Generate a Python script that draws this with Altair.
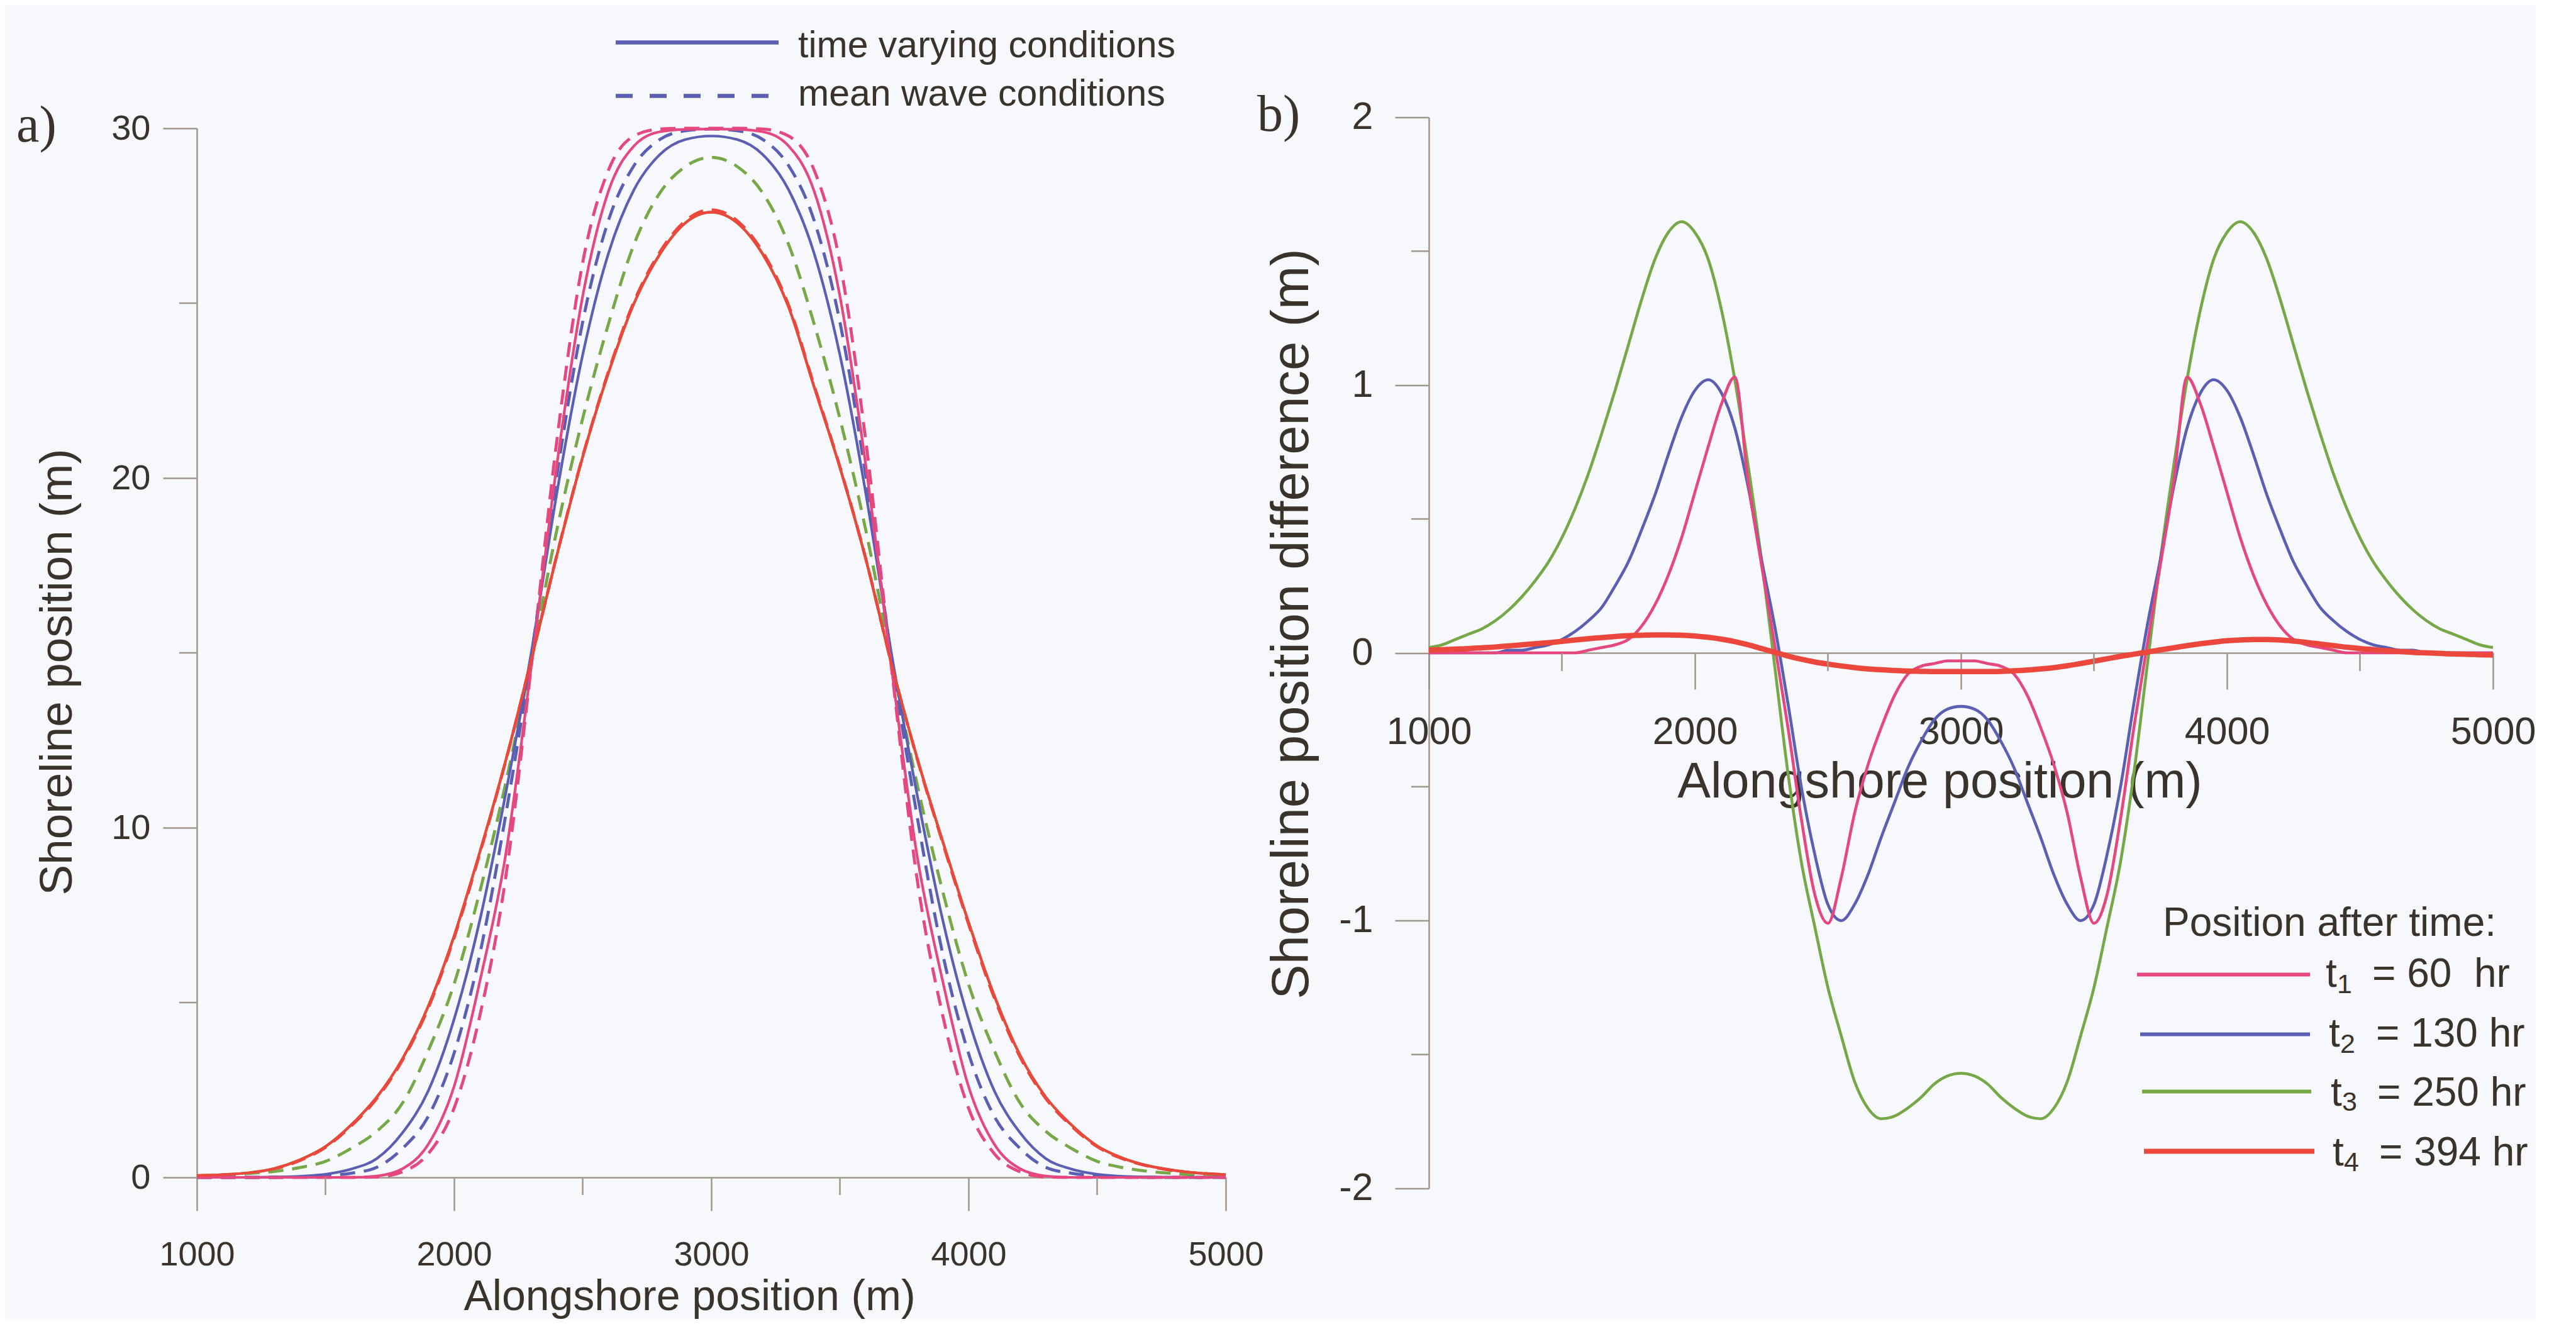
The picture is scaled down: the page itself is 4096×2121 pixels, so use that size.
import altair as alt
import pandas as pd

# ---------------- data ----------------
x_a = list(range(1000, 5001, 100))

pink_solid = [0, 0, 0, 0, 0, 0, 0, 0.04, 0.25, 0.95, 2.6, 5.6, 9.2, 14.6, 20.4, 25.2, 28.2, 29.5, 29.9, 29.97,
              29.98, 29.97, 29.9, 29.5, 28.2, 25.2, 20.4, 14.6, 9.2, 5.6, 2.6, 0.95, 0.25, 0.04, 0, 0, 0, 0, 0, 0, 0]
pink_dashed = [0, 0, 0, 0, 0, 0, 0, 0.01, 0.16, 0.68, 1.98, 4.62, 8.54, 14.6, 21.1, 26.16, 28.8, 29.78, 29.98, 30.0,
               30.0, 30.0, 29.98, 29.78, 28.8, 26.16, 21.1, 14.6, 8.54, 4.62, 1.98, 0.68, 0.16, 0.01, 0, 0, 0, 0, 0, 0, 0]
blue_solid = [0, 0, 0, 0.01, 0.03, 0.09, 0.24, 0.54, 1.28, 2.48, 4.52, 7.35, 10.95, 15.0, 19.59, 23.52, 26.42, 28.25, 29.25, 29.68,
              29.78, 29.68, 29.25, 28.25, 26.42, 23.52, 19.59, 15.0, 10.95, 7.35, 4.52, 2.48, 1.28, 0.54, 0.24, 0.09, 0.03, 0.01, 0, 0, 0]
blue_dashed = [0, 0, 0, 0, 0.01, 0.04, 0.12, 0.29, 0.83, 1.75, 3.55, 6.38, 10.33, 14.9, 20.09, 24.46, 27.36, 28.94, 29.68, 29.93,
               29.98, 29.93, 29.68, 28.94, 27.36, 24.46, 20.09, 14.9, 10.33, 6.38, 3.55, 1.75, 0.83, 0.29, 0.12, 0.04, 0.01, 0, 0, 0, 0]
green_dashed = [0.04, 0.06, 0.11, 0.17, 0.28, 0.46, 0.83, 1.32, 2.13, 3.63, 5.53, 8.17, 11.25, 14.8, 18.53, 21.7, 24.4, 26.69, 28.15, 28.91,
                29.17, 28.91, 28.15, 26.69, 24.4, 21.7, 18.53, 14.8, 11.25, 8.17, 5.53, 3.63, 2.13, 1.32, 0.83, 0.46, 0.28, 0.17, 0.11, 0.06, 0.04]
green_solid = [0.05, 0.08, 0.13, 0.25, 0.5, 0.88, 1.5, 2.3, 3.4, 4.9, 6.9, 9.3, 11.9, 14.8, 17.8, 20.6, 23.0, 25.0, 26.4, 27.3,
               27.6, 27.3, 26.4, 24.9, 22.6, 20.3, 17.7, 14.7, 12.0, 9.6, 7.3, 5.2, 3.5, 2.3, 1.5, 0.9, 0.55, 0.33, 0.2, 0.12, 0.08]
red_dashed = [0.05, 0.07, 0.12, 0.24, 0.48, 0.86, 1.47, 2.26, 3.36, 4.85, 6.85, 9.26, 11.88, 14.8, 17.81, 20.62, 23.04, 25.05, 26.46, 27.36,
              27.67, 27.36, 26.46, 24.95, 22.64, 20.32, 17.71, 14.7, 11.98, 9.56, 7.25, 5.14, 3.45, 2.26, 1.47, 0.88, 0.53, 0.32, 0.19, 0.12, 0.08]
red_solid = [0.05, 0.08, 0.13, 0.25, 0.5, 0.88, 1.5, 2.3, 3.4, 4.9, 6.9, 9.3, 11.9, 14.8, 17.8, 20.6, 23.0, 25.0, 26.4, 27.3,
             27.6, 27.3, 26.4, 24.9, 22.6, 20.3, 17.7, 14.7, 12.0, 9.6, 7.3, 5.2, 3.5, 2.3, 1.5, 0.9, 0.55, 0.33, 0.2, 0.12, 0.08]

x_b = list(range(1000, 5001, 50))

diff_t1 = [0, 0, 0, 0, 0, 0, 0, 0, 0, 0, 0, 0, 0.01, 0.02, 0.03, 0.05, 0.10, 0.18, 0.29, 0.43, 0.60, 0.77, 0.93, 1.03, 0.64, 0.33, 0.03,
           -0.28, -0.62, -0.90, -1.01, -0.84, -0.60, -0.42, -0.28, -0.16, -0.08, -0.05, -0.04, -0.03, -0.03,
           -0.03, -0.04, -0.05, -0.08, -0.16, -0.28, -0.42, -0.60, -0.84, -1.01, -0.90, -0.62, -0.28, 0.03, 0.33, 0.64, 1.03, 0.93, 0.77,
           0.60, 0.43, 0.29, 0.18, 0.10, 0.05, 0.03, 0.02, 0.01, 0, 0, 0, 0, 0, 0, 0, 0, 0, 0, 0, 0]
diff_t2 = [0, 0, 0, 0, 0, 0, 0.01, 0.01, 0.02, 0.03, 0.05, 0.08, 0.12, 0.17, 0.25, 0.34, 0.46, 0.59, 0.74, 0.88, 0.98, 1.02, 0.97, 0.84,
           0.62, 0.35, 0.10, -0.19, -0.50, -0.75, -0.94, -1.00, -0.94, -0.83, -0.69, -0.56, -0.43, -0.33, -0.25, -0.21, -0.20,
           -0.21, -0.25, -0.33, -0.43, -0.56, -0.69, -0.83, -0.94, -1.00, -0.94, -0.75, -0.50, -0.19, 0.10, 0.35, 0.62, 0.84, 0.97, 1.02,
           0.98, 0.88, 0.74, 0.59, 0.46, 0.34, 0.25, 0.17, 0.12, 0.08, 0.05, 0.03, 0.02, 0.01, 0.01, 0, 0, 0, 0, 0, 0]
diff_t3 = [0.02, 0.03, 0.05, 0.07, 0.09, 0.12, 0.16, 0.21, 0.27, 0.34, 0.43, 0.54, 0.67, 0.82, 0.98, 1.15, 1.32, 1.47, 1.57, 1.61, 1.57,
           1.47, 1.28, 1.02, 0.70, 0.35, -0.05, -0.45, -0.78, -1.02, -1.25, -1.43, -1.60, -1.70, -1.74, -1.73, -1.70, -1.66, -1.61, -1.58, -1.57,
           -1.58, -1.61, -1.66, -1.70, -1.73, -1.74, -1.70, -1.60, -1.43, -1.25, -1.02, -0.78, -0.45, -0.05, 0.35, 0.70, 1.02, 1.28, 1.47,
           1.57, 1.61, 1.57, 1.47, 1.32, 1.15, 0.98, 0.82, 0.67, 0.54, 0.43, 0.34, 0.27, 0.21, 0.16, 0.12, 0.09, 0.07, 0.05, 0.03, 0.02]
diff_t4 = [0.01, 0.012, 0.014, 0.016, 0.019, 0.022, 0.026, 0.03, 0.034, 0.038, 0.043, 0.048, 0.053, 0.057, 0.061, 0.064, 0.066, 0.067,
           0.067, 0.066, 0.063, 0.058, 0.051, 0.042, 0.03, 0.016, 0.002, -0.012, -0.024, -0.034, -0.042, -0.049, -0.055, -0.06, -0.063,
           -0.066, -0.068, -0.069, -0.07, -0.07, -0.07,
           -0.07, -0.07, -0.069, -0.067, -0.064, -0.06, -0.055, -0.048, -0.04, -0.031, -0.022, -0.013, -0.005, 0.003, 0.011, 0.019,
           0.027, 0.034, 0.04, 0.045, 0.048, 0.05, 0.05, 0.048, 0.044, 0.039, 0.033, 0.027, 0.021, 0.016, 0.012, 0.008, 0.005, 0.002,
           0.0, -0.002, -0.004, -0.005, -0.007, -0.008]

x_major = [1000, 2000, 3000, 4000, 5000]
x_minor = [1500, 2500, 3500, 4500]
ya_major = [0, 10, 20, 30]
ya_minor = [5, 15, 25]
yb_major = [-2, -1, 0, 1, 2]
yb_minor = [-1.5, -0.5, 0.5, 1.5]

legend_a = ["time varying conditions", "mean wave conditions"]
legend_b_title = "Position after time:"
legend_b_sub = ["1", "2", "3", "4"]
legend_b_text = ["= 60\u00a0 hr", "= 130 hr", "= 250 hr", "= 394 hr"]

# ---------------- style ----------------
TXT = "#3a332b"
AXC = "#a0978a"
BG = "#f7f8fc"
PINK = "#e5487f"
BLUE = "#5a5fb4"
GREEN = "#77a847"
RED = "#ec473c"
FONT = "Liberation Sans"

W_A, H_A = 1636, 1668
W_B, H_B = 1692, 1703

one = pd.DataFrame({"k": [0]})

xs_a = alt.Scale(domain=[1000, 5000], nice=False, zero=False)
ys_a = alt.Scale(domain=[0, 30], nice=False, zero=False)
xs_b = alt.Scale(domain=[1000, 5000], nice=False, zero=False)
ys_b = alt.Scale(domain=[-2, 2], nice=False, zero=False)

LBL = "'' + datum.value"

ax_xa = alt.Axis(values=x_major, title="Alongshore position (m)", labelFontSize=54, tickSize=53,
                 labelPadding=43, titleFontSize=68, titleX=783, titleY=190, titleAlign="center",
                 titleBaseline="middle", titleAngle=0, labelExpr=LBL)
ax_ya = alt.Axis(values=ya_major, title="Shoreline position (m)", labelFontSize=56, tickSize=54,
                 labelPadding=20, titleFontSize=73, titleX=-222, titleY=864, titleAngle=270,
                 titleAlign="center", titleBaseline="middle", labelExpr=LBL)
ax_xb = alt.Axis(values=x_major, title="Alongshore position (m)", labelFontSize=61, tickSize=58,
                 labelPadding=38, titleFontSize=79, titleX=812, titleY=205, titleAlign="center",
                 titleBaseline="middle", titleAngle=0, offset=-H_B / 2, labelExpr=LBL)
ax_yb = alt.Axis(values=yb_major, title="Shoreline position difference (m)", labelFontSize=61, tickSize=54,
                 labelPadding=35, titleFontSize=83, titleX=-218, titleY=805, titleAngle=270,
                 titleAlign="center", titleBaseline="middle", labelExpr=LBL)


def curve(xv, yv, color, width, xs, ys, axx, axy, dash=None):
    df = pd.DataFrame({"x": xv, "y": yv})
    kw = dict(color=color, strokeWidth=width, interpolate="monotone", strokeCap="butt")
    if dash:
        kw["strokeDash"] = dash
    return alt.Chart(df).mark_line(**kw).encode(
        x=alt.X("x:Q", scale=xs, axis=axx),
        y=alt.Y("y:Q", scale=ys, axis=axy),
    )


def text(t, x, y, size, font=FONT, color=TXT):
    return alt.Chart(one).mark_text(text=t, font=font, fontSize=size, color=color, align="left",
                                    baseline="alphabetic").encode(x=alt.value(x), y=alt.value(y))


def hline(x1, x2, y, color, width, dash=None):
    kw = dict(color=color, strokeWidth=width, strokeCap="butt")
    if dash:
        kw["strokeDash"] = dash
    return alt.Chart(one).mark_rule(**kw).encode(x=alt.value(x1), x2=alt.value(x2), y=alt.value(y))


DASH = [24, 14]
LW = 4.2

# ---------------- panel a ----------------
layers_a = [
    curve(x_a, green_solid, GREEN, LW, xs_a, ys_a, ax_xa, ax_ya),
    curve(x_a, red_dashed, RED, LW + 0.6, xs_a, ys_a, ax_xa, ax_ya, DASH),
    curve(x_a, green_dashed, GREEN, LW + 0.6, xs_a, ys_a, ax_xa, ax_ya, DASH),
    curve(x_a, blue_dashed, BLUE, LW + 0.6, xs_a, ys_a, ax_xa, ax_ya, DASH),
    curve(x_a, pink_dashed, PINK, LW + 0.6, xs_a, ys_a, ax_xa, ax_ya, DASH),
    curve(x_a, blue_solid, BLUE, LW, xs_a, ys_a, ax_xa, ax_ya),
    curve(x_a, pink_solid, PINK, LW, xs_a, ys_a, ax_xa, ax_ya),
    curve(x_a, red_solid, RED, LW, xs_a, ys_a, ax_xa, ax_ya),
    alt.Chart(pd.DataFrame({"v": x_minor})).mark_rule(color=AXC, strokeWidth=2.5).encode(
        x=alt.X("v:Q", scale=xs_a, axis=ax_xa), y=alt.value(H_A), y2=alt.value(H_A + 28)),
    alt.Chart(pd.DataFrame({"v": ya_minor})).mark_rule(color=AXC, strokeWidth=2.5).encode(
        y=alt.Y("v:Q", scale=ys_a, axis=ax_ya), x=alt.value(0), x2=alt.value(-28)),
    text("a)", -287, 21, 82, font="Liberation Serif"),
    hline(666, 925, -136.5, BLUE, 6.5),
    text(legend_a[0], 956, -113, 59),
    hline(666, 912, -51.5, BLUE, 6.5, [27, 27]),
    text(legend_a[1], 956, -36.5, 59),
]
panel_a = alt.layer(*layers_a).properties(width=W_A, height=H_A)

# ---------------- panel b ----------------
LWB = 4.6
layers_b = [
    curve(x_b, diff_t3, GREEN, LWB, xs_b, ys_b, ax_xb, ax_yb),
    curve(x_b, diff_t2, BLUE, LWB, xs_b, ys_b, ax_xb, ax_yb),
    curve(x_b, diff_t1, PINK, LWB, xs_b, ys_b, ax_xb, ax_yb),
    curve(x_b, diff_t4, RED, 8.5, xs_b, ys_b, ax_xb, ax_yb),
    alt.Chart(pd.DataFrame({"v": x_minor})).mark_rule(color=AXC, strokeWidth=2.5).encode(
        x=alt.X("v:Q", scale=xs_b, axis=ax_xb), y=alt.value(H_B / 2), y2=alt.value(H_B / 2 + 29)),
    alt.Chart(pd.DataFrame({"v": yb_minor})).mark_rule(color=AXC, strokeWidth=2.5).encode(
        y=alt.Y("v:Q", scale=ys_b, axis=ax_yb), x=alt.value(0), x2=alt.value(-28)),
    text("b)", -273, 21, 82, font="Liberation Serif"),
    text(legend_b_title, 1167, 1301, 64),
]
leg_colors = [PINK, BLUE, GREEN, RED]
leg_lines = [(1126, 1401, 1363), (1131, 1401, 1458), (1134, 1403, 1549), (1137, 1408, 1644)]
leg_t_x = [1426, 1431, 1434, 1437]
leg_base = [1382, 1477, 1571, 1666]
leg_sub_base = [1392, 1487, 1579, 1675]
leg_eq_x = [1500, 1506, 1508, 1511]
for i in range(4):
    x1, x2, yy = leg_lines[i]
    layers_b.append(hline(x1, x2, yy, leg_colors[i], 8 if i == 3 else 6))
    layers_b.append(text("t", leg_t_x[i], leg_base[i], 64))
    layers_b.append(text(legend_b_sub[i], leg_t_x[i] + 18, leg_sub_base[i], 43))
    layers_b.append(text(legend_b_text[i], leg_eq_x[i], leg_base[i], 64))

panel_b = alt.layer(*layers_b).properties(width=W_B, height=H_B)

chart = alt.hconcat(panel_a, panel_b, spacing=323, bounds="flush", center=True).properties(
    padding={"left": 18, "top": 35.5, "right": 0, "bottom": 0},
    background=BG,
).configure_axis(
    labelFont=FONT, titleFont=FONT, labelColor=TXT, titleColor=TXT, domainColor=AXC, tickColor=AXC,
    domainWidth=2.5, tickWidth=2.5, grid=False, labelFlush=False, labelOverlap=False,
    titleFontWeight="normal", labelFontWeight="normal",
).configure_view(stroke=None)

chart.save("out.html", embed_options={"renderer": "svg", "actions": False})
